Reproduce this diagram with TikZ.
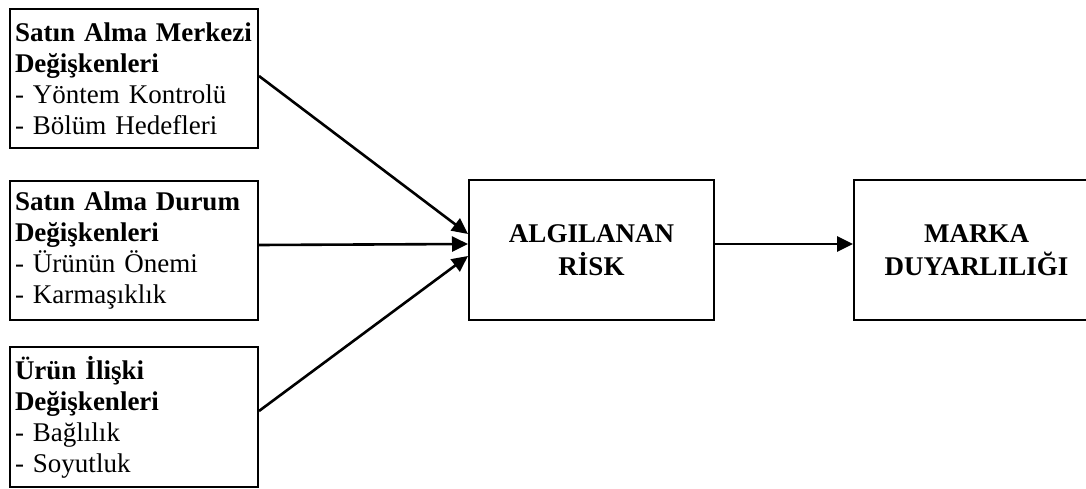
\documentclass[tikz,border=0pt]{standalone}
\usepackage{fontspec}
\setmainfont{Liberation Serif}
\usetikzlibrary{arrows.meta}
\tikzset{
  leftbox/.style={draw, line width=2pt, anchor=north west, minimum width=246pt,
    minimum height=139pt, text width=238pt, align=left, inner xsep=5pt, inner ysep=0pt,
    font=\fontsize{27}{31}\selectfont},
  bigbox/.style={draw, line width=2pt, anchor=north west, minimum width=245pt,
    minimum height=140pt, align=center, inner sep=0pt,
    font=\fontsize{27}{32.5}\selectfont\bfseries},
  arr/.style={line width=2.6pt, -{Triangle[length=16pt,width=15pt]}}
}
\begin{document}
\begin{tikzpicture}[x=1pt,y=-1pt]
\useasboundingbox (0,0) rectangle (1086,489);
\clip (0,0) rectangle (1086,489);
\node[leftbox] (b1) at (9,8) {\textbf{Satın Alma Merkezi}\\\textbf{Değişkenleri}\\- Yöntem Kontrolü\\- Bölüm Hedefleri};
\node[leftbox] (b2) at (9,180) {\textbf{Satın Alma Durum}\\\textbf{Değişkenleri}\\- Ürünün Önemi\\- Karmaşıklık};
\node[leftbox, minimum height=140pt] (b3) at (9,346) {\textbf{Ürün İlişki}\\\textbf{Değişkenleri}\\- Bağlılık\\- Soyutluk};
\node[bigbox] (risk) at (468,179) {ALGILANAN\\RİSK};
\node[bigbox] (marka) at (853,179) {MARKA\\DUYARLILIĞI};
\draw[arr] ([yshift=2.5pt]b1.east) -- ([yshift=16pt]risk.west);
\draw[arr] ([yshift=5.5pt]b2.east) -- ([yshift=6pt]risk.west);
\draw[arr] ([yshift=6pt]b3.east) -- ([yshift=-6pt]risk.west);
\draw[arr] ([yshift=6pt]risk.east) -- ([yshift=6pt]marka.west);
\end{tikzpicture}
\end{document}
